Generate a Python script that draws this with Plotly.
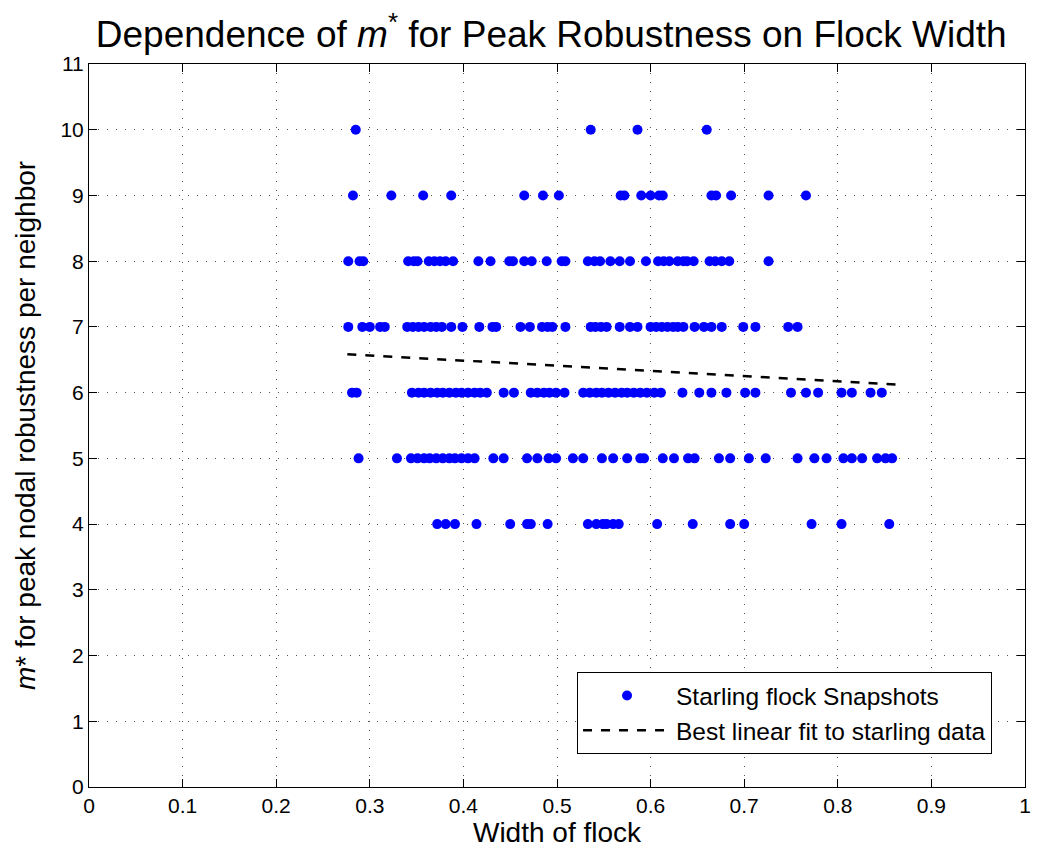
import plotly.graph_objects as go

# ---- data ----
w10 = [0.285, 0.536, 0.586, 0.660]
w9 = [0.282, 0.323, 0.357, 0.387, 0.465, 0.485, 0.502, 0.568, 0.572, 0.590, 0.600,
      0.609, 0.613, 0.665, 0.670, 0.686, 0.726, 0.766]
w8 = [0.277, 0.289, 0.293, 0.341, 0.347, 0.351, 0.363, 0.369, 0.375, 0.381, 0.389,
      0.416, 0.429, 0.449, 0.453, 0.465, 0.473, 0.489, 0.505, 0.509, 0.533, 0.540,
      0.546, 0.557, 0.567, 0.578, 0.595, 0.608, 0.614, 0.620, 0.629, 0.635, 0.639,
      0.646, 0.663, 0.669, 0.676, 0.684, 0.726]
w7 = [0.277, 0.292, 0.300, 0.311, 0.316, 0.340, 0.346, 0.352, 0.358, 0.365, 0.371,
      0.377, 0.387, 0.399, 0.417, 0.431, 0.435, 0.461, 0.471, 0.484, 0.490, 0.495,
      0.509, 0.536, 0.541, 0.547, 0.553, 0.567, 0.578, 0.586, 0.600, 0.606, 0.612,
      0.618, 0.624, 0.629, 0.635, 0.647, 0.657, 0.665, 0.676, 0.699, 0.712, 0.747,
      0.757]
w6 = [0.281, 0.286, 0.345, 0.352, 0.358, 0.365, 0.372, 0.378, 0.385, 0.392, 0.398,
      0.405, 0.412, 0.418, 0.425, 0.443, 0.454, 0.472, 0.479, 0.486, 0.492, 0.499,
      0.508, 0.528, 0.535, 0.542, 0.548, 0.555, 0.562, 0.569, 0.575, 0.582, 0.589,
      0.596, 0.604, 0.611, 0.634, 0.652, 0.665, 0.681, 0.701, 0.712, 0.750, 0.766,
      0.779, 0.804, 0.815, 0.835, 0.847]
w5 = [0.288, 0.329, 0.344, 0.351, 0.358, 0.364, 0.371, 0.378, 0.385, 0.391, 0.398,
      0.405, 0.412, 0.432, 0.443, 0.468, 0.479, 0.491, 0.499, 0.517, 0.528, 0.548,
      0.560, 0.575, 0.589, 0.593, 0.613, 0.625, 0.640, 0.647, 0.673, 0.685, 0.705,
      0.723, 0.757, 0.775, 0.788, 0.806, 0.815, 0.826, 0.842, 0.851, 0.858]
w4 = [0.372, 0.381, 0.391, 0.414, 0.450, 0.468, 0.472, 0.490, 0.533, 0.542, 0.549,
      0.553, 0.560, 0.566, 0.607, 0.645, 0.685, 0.700, 0.772, 0.804, 0.855]

rows = {10: w10, 9: w9, 8: w8, 7: w7, 6: w6, 5: w5, 4: w4}

fit_x = [0.276, 0.862]
fit_y = [6.585, 6.125]

x_ticks = [0, 0.1, 0.2, 0.3, 0.4, 0.5, 0.6, 0.7, 0.8, 0.9, 1]
x_tick_labels = ["0", "0.1", "0.2", "0.3", "0.4", "0.5", "0.6", "0.7", "0.8", "0.9", "1"]
y_ticks = list(range(0, 12))

xs, ys = [], []
for m, widths in rows.items():
    xs += widths
    ys += [m] * len(widths)

FONT = "Liberation Sans, Arial, Helvetica, sans-serif"

fig = go.Figure()
fig.add_trace(go.Scatter(
    x=xs, y=ys, mode="markers", name="Starling flock Snapshots",
    marker=dict(color="#0000ff", size=10, line=dict(width=0)),
))
fig.add_trace(go.Scatter(
    x=fit_x, y=fit_y, mode="lines", name="Best linear fit to starling data",
    line=dict(color="black", width=2.5, dash="dash"),
))

axis_common = dict(
    showgrid=True, gridcolor="#555555", griddash="1px,8px", gridwidth=1,
    showline=True, linecolor="black", linewidth=1, mirror="ticks",
    ticks="inside", ticklen=8, tickcolor="black", zeroline=False,
    tickfont=dict(family=FONT, size=21, color="black"),
    automargin=False,
)

fig.update_xaxes(range=[0, 1], tickvals=x_ticks, ticktext=x_tick_labels,
                 title=dict(text="Width of flock", font=dict(family=FONT, size=28, color="black"),
                            standoff=2),
                 **axis_common)
fig.update_yaxes(range=[0, 11], tickvals=y_ticks,
                 title=dict(text="<i>m</i>* for peak nodal robustness per neighbor",
                            font=dict(family=FONT, size=28, color="black"), standoff=16),
                 **axis_common)

fig.update_layout(
    width=1059, height=856,
    margin=dict(l=81, r=42, t=56, b=77),
    paper_bgcolor="white", plot_bgcolor="white",
    title=dict(text="Dependence of <i>m</i><sup>*</sup> for Peak Robustness on Flock Width",
               font=dict(family=FONT, size=37, color="black"),
               x=0.513, xanchor="center", y=0.970, yanchor="middle"),
    legend=dict(x=0.5214, y=0.159, xanchor="left", yanchor="top",
                bordercolor="black", borderwidth=1, bgcolor="white",
                font=dict(family=FONT, size=24.5, color="black"),
                itemwidth=88, tracegroupgap=2),
    showlegend=True,
)

fig.write_html("out.html")
